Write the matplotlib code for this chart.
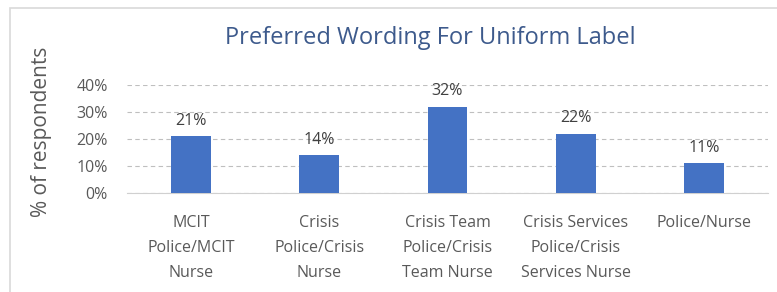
import matplotlib.pyplot as plt
from matplotlib.patches import Rectangle
from matplotlib.ticker import PercentFormatter

categories = ["MCIT\nPolice/MCIT\nNurse",
              "Crisis\nPolice/Crisis\nNurse",
              "Crisis Team\nPolice/Crisis\nTeam Nurse",
              "Crisis Services\nPolice/Crisis\nServices Nurse",
              "Police/Nurse"]
values = [21, 14, 32, 22, 11]
y_ticks = [0, 10, 20, 30, 40]

plt.rcParams['font.family'] = ['Open Sans', 'DejaVu Sans']
text_col = '#595959'
bar_col = '#4472C4'

fig = plt.figure(figsize=(7.77, 2.92), dpi=100)
# light frame of the chart area
fig.patches.append(Rectangle((10 / 777, -0.1), 1.2, 1 - 8 / 292 + 0.1,
                             transform=fig.transFigure, fill=False,
                             edgecolor='#d9d9d9', linewidth=1.2))

ax = fig.add_axes([127 / 777, 99 / 292, 641 / 777, 108 / 292])
x = range(len(categories))
ax.bar(x, values, width=0.31, color=bar_col, zorder=3)
for i, v in enumerate(values):
    ax.text(i, v + 2.8, f"{v}%", ha='center', va='bottom', fontsize=11.5,
            color='#404040')

ax.set_xlim(-0.5, len(categories) - 0.5)
ax.set_ylim(0, 40)
ax.set_yticks(y_ticks)
ax.yaxis.set_major_formatter(PercentFormatter(decimals=0))
ax.set_xticks(list(x))
ax.set_xticklabels(categories, linespacing=1.75)
ax.tick_params(axis='x', length=0, pad=16, labelsize=11.5, labelcolor=text_col)
ax.tick_params(axis='y', length=0, pad=14, labelsize=11.5, labelcolor=text_col)
ax.grid(axis='y', color='#bfbfbf', linestyle=(0, (4, 3)), linewidth=0.8, zorder=0)
for s in ['top', 'right', 'left']:
    ax.spines[s].set_visible(False)
ax.spines['bottom'].set_color('#d0d0d0')

ax.set_ylabel("% of respondents", fontsize=15, color=text_col)
ax.yaxis.set_label_coords(-0.117, 0.565)
fig.text(430 / 777, 1 - 38 / 292, "Preferred Wording For Uniform Label",
         ha='center', va='center', fontsize=17, color='#3d5a8c')

fig.savefig("out.png", dpi=100)
